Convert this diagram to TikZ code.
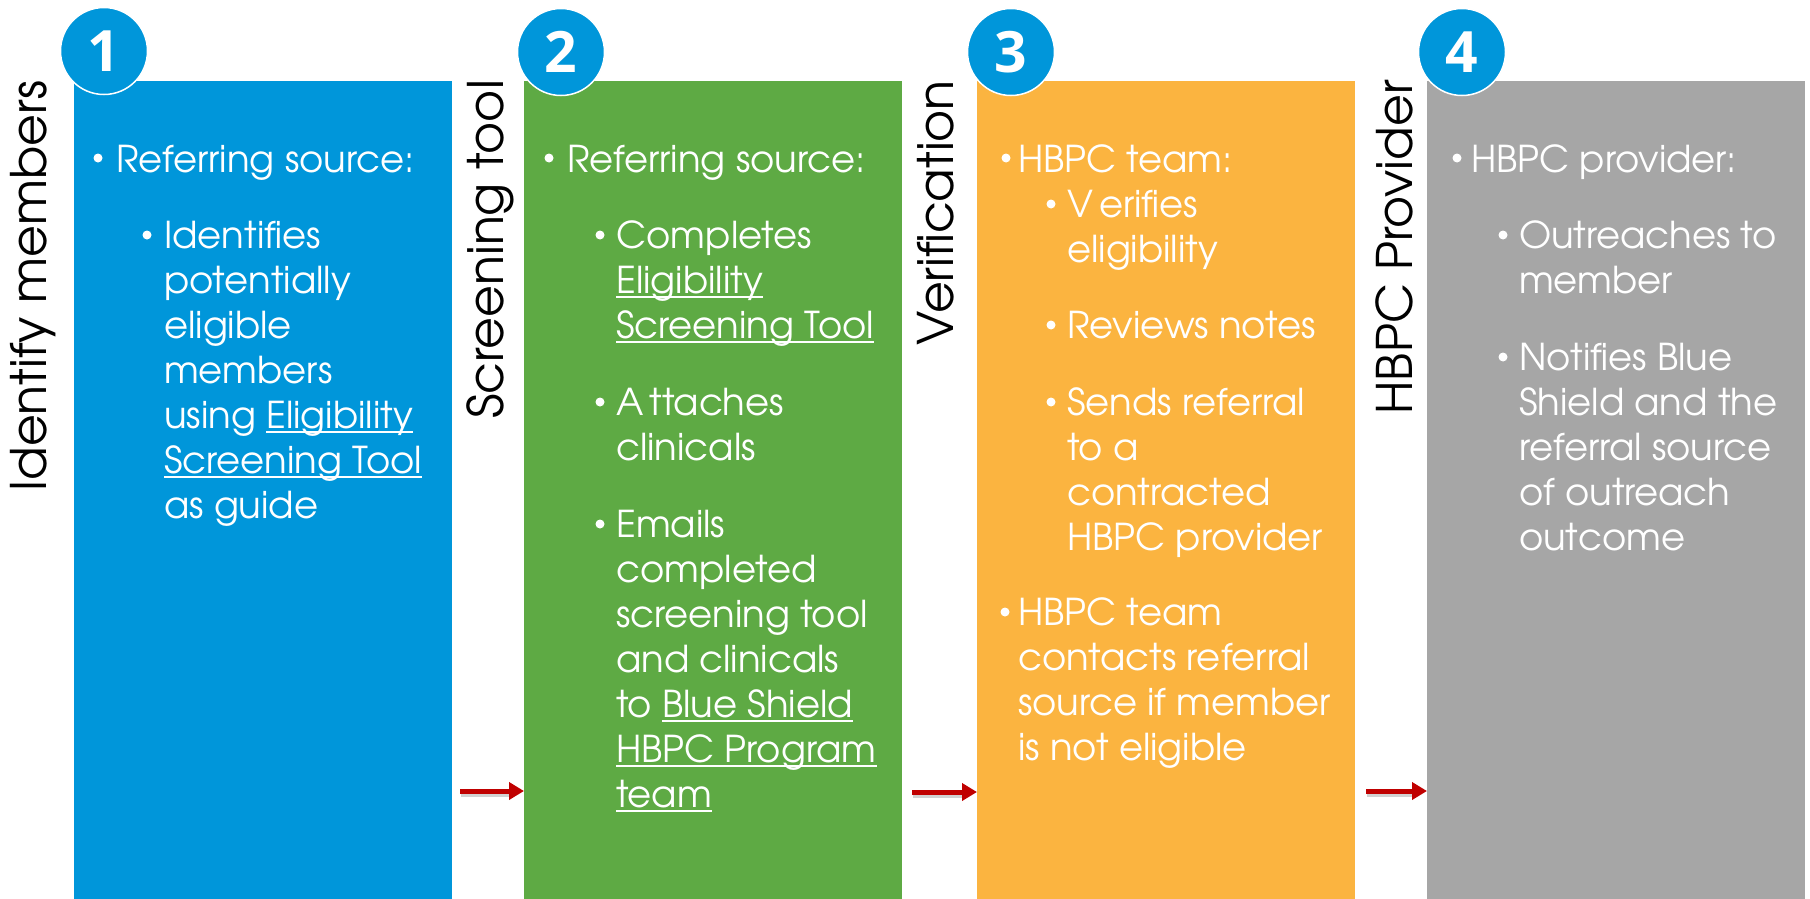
\documentclass[tikz,border=0pt]{standalone}
\usepackage{fontspec}
\setmainfont{TeX Gyre Adventor}
\newfontfamily\numfont{Open Sans}
\usetikzlibrary{arrows.meta}

\definecolor{stepblue}{RGB}{0,150,218}
\definecolor{stepgreen}{RGB}{94,170,68}
\definecolor{steporange}{RGB}{251,180,64}
\definecolor{stepgray}{RGB}{166,166,166}
\definecolor{arrowred}{RGB}{192,0,0}

% underline drawn as a rule just below the baseline
\newcommand\undl[1]{\setbox0=\hbox{#1}\rlap{\rule[-5pt]{\wd0}{2.2pt}}\box0}
% left-aligned stack of lines whose baseline is the first line's
\newcommand\stack[1]{\begin{tabular}[t]{@{}l@{}}#1\end{tabular}}

\begin{document}
\begin{tikzpicture}[x=1pt,y=-1pt,
  panel/.style={anchor=north west, minimum width=378pt, minimum height=818pt,
                inner sep=0pt, draw=none},
  badge/.style={circle, fill=stepblue, draw=white, line width=1.5pt,
                minimum size=87pt, inner sep=0pt, text=white,
                font=\numfont\bfseries\fontsize{57}{57}\selectfont},
  phase/.style={rotate=90, anchor=base east, inner sep=0pt,
                font=\fontsize{49}{49}\selectfont},
  body/.style={anchor=base west, inner sep=0pt, text=white,
               font=\fontsize{37}{45}\selectfont},
  dot/.style={circle, fill=white, inner sep=0pt, minimum size=9pt},
  flow/.style={-{Triangle[length=15pt,width=17pt]}, line width=5pt, draw=arrowred},
  flowshadow/.style={line width=5pt, draw=black, opacity=0.18}
]
\useasboundingbox (0,0) rectangle (1810,899);

% coloured step panels
\node[panel, fill=stepblue]   (b1) at (74,81)   {};
\node[panel, fill=stepgreen]  (b2) at (524,81)  {};
\node[panel, fill=steporange] (b3) at (977,81)  {};
\node[panel, fill=stepgray]   (b4) at (1427,81) {};

% numbered badges
\node[badge] (n1) at (104,51)  {1};
\node[badge] (n2) at (561,52)  {2};
\node[badge] (n3) at (1011,52) {3};
\node[badge] (n4) at (1462,52) {4};

% vertical phase titles
\node[phase] (t1) at (46,80)   {Identify members};
\node[phase] (t2) at (503,80)  {Screening tool};
\node[phase] (t3) at (953,80)  {Verification};
\node[phase] (t4) at (1412,80) {HBPC Provider};

% step 1
\node[dot] (d11) at (98,158) {};
\node[body] (x11) at (116,172) {Referring source:};
\node[dot] (d12) at (147,235) {};
\node[body] (x12) at (164,248) {\stack{Identifies\\potentially\\eligible\\members\\
  using \undl{Eligibility}\\\undl{Screening Tool}\\as guide}};

% step 2
\node[dot] (d21) at (549,158) {};
\node[body] (x21) at (567,172) {Referring source:};
\node[dot] (d22) at (600,235) {};
\node[body] (x22) at (616,248) {\stack{Completes\\\undl{Eligibility}\\\undl{Screening Tool}}};
\node[dot] (d23) at (600,402) {};
\node[body] (x23) at (616,415) {\stack{A\kern6pt ttaches\\clinicals}};
\node[dot] (d24) at (600,524) {};
\node[body] (x24) at (616,537) {\stack{Emails\\completed\\screening tool\\and clinicals\\
  to \undl{Blue Shield}\\\undl{HBPC Program}\\\undl{team}}};

% step 3
\node[dot] (d31) at (1006,158) {};
\node[body] (x31) at (1018,172) {HBPC team:};
\node[dot] (d32) at (1051,204) {};
\node[body] (x32) at (1067,217) {\stack{V\kern6pt erifies\\eligibility}};
\node[dot] (d33) at (1051,325) {};
\node[body] (x33) at (1067,338) {Reviews notes};
\node[dot] (d34) at (1051,402) {};
\node[body] (x34) at (1067,415) {\stack{Sends referral\\to a\\contracted\\HBPC provider}};
\node[dot] (d35) at (1005,612) {};
\node[body] (x35) at (1018,625) {\stack{HBPC team\\contacts referral\\source if member\\is not eligible}};

% step 4
\node[dot] (d41) at (1457,158) {};
\node[body] (x41) at (1471,172) {HBPC provider:};
\node[dot] (d42) at (1503,235) {};
\node[body] (x42) at (1519,248) {\stack{Outreaches to\\member}};
\node[dot] (d43) at (1503,357) {};
\node[body] (x43) at (1519,370) {\stack{Notifies Blue\\Shield and the\\referral source\\of outreach\\outcome}};

% hand-off arrows between steps
\coordinate (a1) at (460,791);
\coordinate (a2) at (912,792);
\coordinate (a3) at (1366,791);
\foreach \s/\t in {a1/b2, a2/b3, a3/b4}{
  \draw[flowshadow] ([shift={(1,3)}]\s) -- ([shift={(-14,3)}]\s -| \t.west);
  \draw[flow] (\s) -- (\s -| \t.west);
}
\end{tikzpicture}
\end{document}
